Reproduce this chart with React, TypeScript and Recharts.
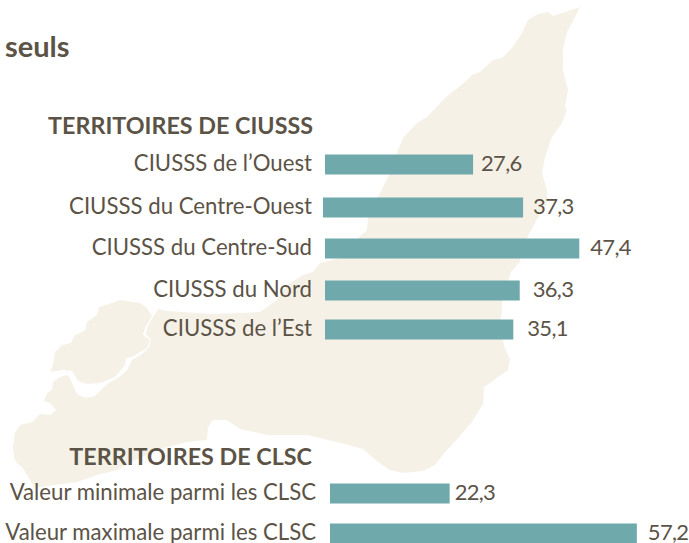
import React from 'react'
import { BarChart, Bar, XAxis, YAxis, LabelList, Rectangle } from 'recharts'

const TITLE = 'seuls'

// rows of the chart, headings and spacers included
const categories = [
  'TERRITOIRES DE CIUSSS',
  'CIUSSS de l’Ouest',
  'CIUSSS du Centre-Ouest',
  'CIUSSS du Centre-Sud',
  'CIUSSS du Nord',
  'CIUSSS de l’Est',
  '',
  ' ',
  'TERRITOIRES DE CLSC',
  'Valeur minimale parmi les CLSC',
  'Valeur maximale parmi les CLSC',
]
const values = [null, 27.6, 37.3, 47.4, 36.3, 35.1, null, null, null, 22.3, 57.2]

const headings = ['TERRITOIRES DE CIUSSS', 'TERRITOIRES DE CLSC']

const data = categories.map((name, i) => ({ name, value: values[i] }))

// hand placed rows in the original, small offsets per row
const rowDy = [4, 0, 2, 2, 3, 1, 0, 0, 7, 1, 0]
const barDx = [0, 0, -2, 0, 0, 0, 0, 0, 0, 5, 5]
const tickDx = [-6, -7, -7, -7, -7, -7, 0, 0, -7, -3, -3]
const labelGap = [0, 8, 10, 11, 13, 14, 0, 0, 0, 5, 11]

const TEXT = '#5c5347'
const BAR = '#70a9ac'
const LAND = '#f5f1e7'
const FONT = 'Lato, sans-serif'

const mainland =
  'M580,7 L575,17 567,32 563,50 563,70 568,90 565,107 567,110 562,123 552,137 545,157 542,173 547,190 547,203 535,223 527,238 ' +
  '520,258 520,262 511,272 502,300 502,314 499,322 505,349 510,359 508,370 487,385 484,387 483,404 472,422 450,447 445,452 435,465 ' +
  '423,471 403,473 390,470 378,462 363,449 345,444 307,435 267,435 240,429 227,420 213,420 208,427 207,440 187,442 160,449 133,461 ' +
  '117,470 97,475 77,482 55,485 35,488 30,480 22,467 17,463 14,458 13,447 15,433 20,425 32,422 40,414 50,415 56,410 50,403 44,401 ' +
  '47,393 52,390 53,382 60,377 68,375 73,385 77,394 85,398 95,396 103,388 110,382 118,378 127,370 132,360 142,354 149,347 151,340 ' +
  '146,334 147,328 153,317 158,309 167,311 213,314 260,312 277,300 287,285 303,275 313,272 320,263 345,257 ' +
  '358,238 367,230 368,217 378,197 388,177 398,150 403,138 417,123 427,117 445,98 465,82 472,75 480,72 493,60 502,58 512,48 522,33 ' +
  '528,20 538,14 548,12 553,16 565,12 Z'

const upperIsland =
  'M50,372 L53,365 55,352 62,345 71,343 75,335 85,331 87,322 97,315 99,307 115,302 120,300 140,303 147,308 152,316 145,328 143,335 ' +
  '150,340 147,348 137,354 132,357 126,358 125,365 115,377 100,383 87,384 78,381 72,371 63,370 Z'

const RowTick = (props: any) => {
  const { x, y, payload, index } = props
  const isHeading = headings.includes(payload.value)
  return (
    <text
      x={x + tickDx[index]}
      y={y + rowDy[index]}
      dy="0.3em"
      textAnchor="end"
      fontFamily={FONT}
      fontSize={isHeading ? 23.3 : 22.2}
      fontWeight={isHeading ? 700 : 400}
      fill={TEXT}
    >
      {payload.value}
    </text>
  )
}

const RowBar = (props: any) => {
  const { x, y, width, height, payload } = props
  const row = categories.indexOf(payload.name)
  if (values[row] == null) return null
  return <Rectangle x={x + barDx[row]} y={y + rowDy[row]} width={width} height={height} fill={BAR} />
}

const ValueLabel = (props: any) => {
  const { x, y, width, height, value } = props
  const row = values.indexOf(value)
  if (value == null || row < 0) return null
  return (
    <text
      x={x + width + barDx[row] + labelGap[row]}
      y={y + height / 2 + rowDy[row]}
      dy="0.3em"
      fontFamily={FONT}
      fontSize={22}
      letterSpacing={-0.7}
      fill={TEXT}
    >
      {String(value).replace('.', ',')}
    </text>
  )
}

export default function App() {
  return (
    <div style={{ position: 'absolute', left: 0, top: 0, width: 689, height: 543, overflow: 'hidden', background: '#fff' }}>
      <svg width={689} height={543} style={{ position: 'absolute', left: 0, top: 0 }}>
        <path d={mainland} fill={LAND} />
        <path d={upperIsland} fill={LAND} />
        <text x={5} y={57} fontFamily={FONT} fontSize={29} fontWeight={700} fill={TEXT}>
          {TITLE}
        </text>
      </svg>
      <div style={{ position: 'absolute', left: 0, top: 0 }}>
        <BarChart
          width={689}
          height={560}
          data={data}
          layout="vertical"
          barCategoryGap={0}
          margin={{ top: 102.5, right: 0, bottom: 6.5, left: 0 }}
        >
          <XAxis type="number" hide domain={[0, 67.85]} />
          <YAxis
            type="category"
            dataKey="name"
            width={325}
            axisLine={false}
            tickLine={false}
            interval={0}
            tickMargin={0}
            tick={<RowTick />}
          />
          <Bar dataKey="value" barSize={20} isAnimationActive={false} shape={<RowBar />}>
            <LabelList dataKey="value" content={<ValueLabel />} />
          </Bar>
        </BarChart>
      </div>
    </div>
  )
}
